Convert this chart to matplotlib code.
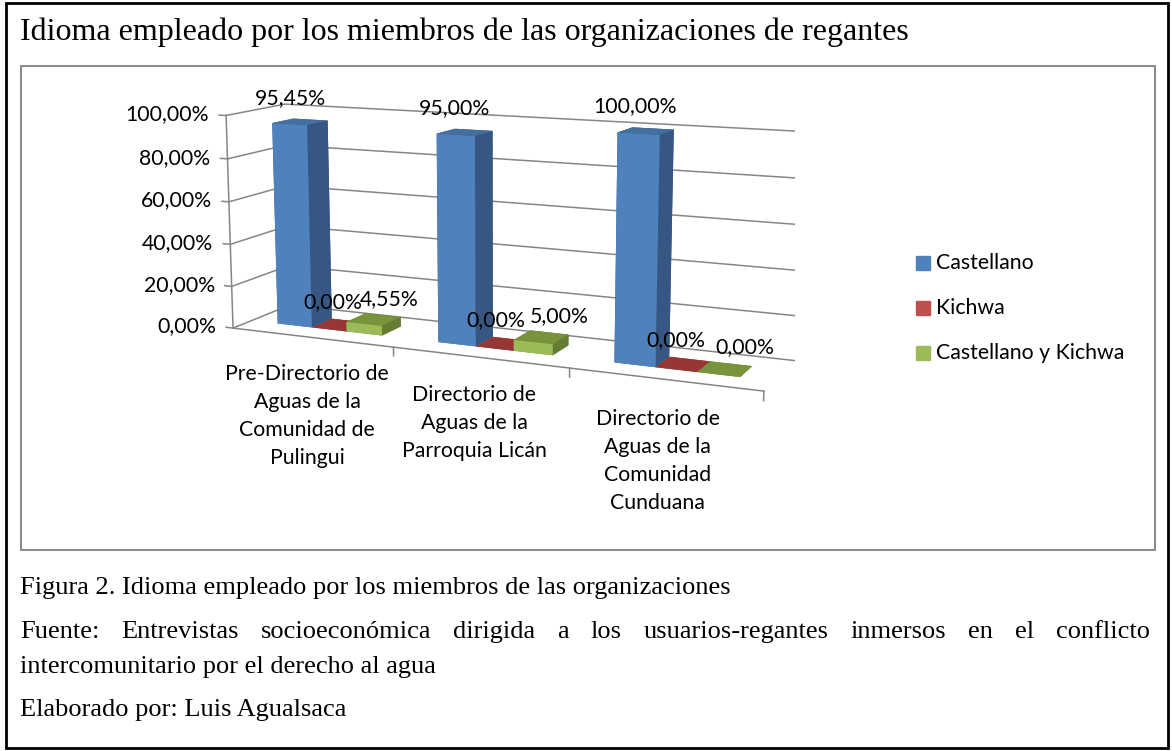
import numpy as np
import matplotlib
matplotlib.use('Agg')
import matplotlib.pyplot as plt
from matplotlib.patches import Rectangle
from mpl_toolkits.mplot3d import proj3d

# ---- data ----
categories = ['Pre-Directorio de\nAguas de la\nComunidad de\nPulingui',
              'Directorio de\nAguas de la\nParroquia Licán',
              'Directorio de\nAguas de la\nComunidad\nCunduana']
series = ['Castellano', 'Kichwa', 'Castellano y Kichwa']
castellano = [95.45, 95.00, 100.00]
kichwa = [0.00, 0.00, 0.00]
castellano_kichwa = [4.55, 5.00, 0.00]
yticks = [0, 20, 40, 60, 80, 100]

title = 'Idioma empleado por los miembros de las organizaciones de regantes'
caption1 = 'Figura 2. Idioma empleado por los miembros de las organizaciones'
caption2 = ('Fuente: Entrevistas socioeconómica dirigida a los usuarios-regantes '
            'inmersos en el conflicto')
caption3 = 'intercomunitario por el derecho al agua'
caption4 = 'Elaborado por: Luis Agualsaca'

front_colors = ['#4F81BD', '#C0504D', '#9BBB59']
top_colors = ['#44709F', '#963735', '#77933C']
side_colors = ['#365683', '#7F2D2B', '#647D33']
label_shift = [-0.06, -0.04, 0.1]   # Excel nudges the data labels a little
grid_col = '#868686'

sans = ['Lato', 'DejaVu Sans']
serif = ['Liberation Serif', 'DejaVu Serif']

W, H = 1172, 751
fig = plt.figure(figsize=(W / 100, H / 100), dpi=100)


def fx(x):
    return x / W


def fy(y):
    return 1 - y / H


# page border and chart frame
fig.patches.append(Rectangle((fx(6), fy(748)), (1168 - 6) / W, (748 - 3) / H,
                             transform=fig.transFigure, fill=False, ec='black', lw=2))
fig.patches.append(Rectangle((fx(21), fy(550)), (1155 - 21) / W, (550 - 66) / H,
                             transform=fig.transFigure, fill=False, ec='#8C8C8C', lw=1.5))

# ---- 3D chart ----
S = 600
cx, cy = 495, 243
ax = fig.add_axes([fx(cx - S / 2), fy(cy + S / 2), S / W, S / H],
                  projection='3d', computed_zorder=False)
ax.set_proj_type('persp', focal_length=0.5)
ax.view_init(elev=11, azim=-66)
ax.set_axis_off()
ax.patch.set_alpha(0)

ncat = len(categories)
depth = 0.6
ax.set_xlim(0, ncat)
ax.set_ylim(0, depth)
ax.set_zlim(0, 100)
ax.set_box_aspect((ncat, depth, 1.18), zoom=1.01)

# walls gridlines, value axis
for v in yticks:
    ax.plot([0, 0, ncat], [0, depth, depth], [v, v, v], color=grid_col, lw=1.1, zorder=1)
    ax.plot([-0.045, 0], [0, 0], [v, v], color=grid_col, lw=1.1, zorder=1)
ax.plot([0, 0], [0, 0], [0, 100], color=grid_col, lw=1.1, zorder=1)
ax.plot([0, ncat], [0, 0], [0, 0], color=grid_col, lw=1.1, zorder=1)
for k in range(1, ncat + 1):
    ax.plot([k, k], [0, 0], [0, -4], color=grid_col, lw=1.1, zorder=1)

# bars
bw = 0.22
bd = 0.22
values = [castellano, kichwa, castellano_kichwa]
xs, ys, dzs, fcs, shifts = [], [], [], [], []
for j, vals in enumerate(values):
    for i, v in enumerate(vals):
        xs.append(i + 0.5 - 1.5 * bw + j * bw)
        ys.append((depth - bd) / 2)
        dzs.append(v)
        shifts.append(label_shift[j])
        fcs += [top_colors[j], top_colors[j], front_colors[j],
                side_colors[j], side_colors[j], side_colors[j]]
ax.bar3d(xs, ys, np.zeros(len(xs)), bw, bd, dzs, color=fcs, shade=False,
         edgecolor='none', zorder=2)

# texts of the 3D chart are placed as flat figure texts at projected points
fig.canvas.draw()
M = ax.get_proj()


def at3d(x, y, z):
    xp, yp, _ = proj3d.proj_transform(x, y, z, M)
    px, py = ax.transData.transform((xp, yp))
    return fig.transFigure.inverted().transform((px, py))


for v in yticks:
    p = at3d(-0.11, 0, v)
    fig.text(p[0], p[1], f'{v:.2f}%'.replace('.', ','), ha='right', va='center',
             fontsize=15.3, family=sans)

# data labels
for x0, y0, v, sh in zip(xs, ys, dzs, shifts):
    p = at3d(x0 + bw / 2 + sh, y0 + bd / 2, v + 6)
    fig.text(p[0], p[1], f'{v:.2f}%'.replace('.', ','),
             ha='center', va='bottom', fontsize=15.3, family=sans)

# category labels
for i, lab in enumerate(categories):
    p = at3d(i + 0.47, 0, -13)
    fig.text(p[0], p[1], lab, ha='center', va='top', fontsize=15.3,
             family=sans, linespacing=1.5)

# legend
for j, name in enumerate(series):
    yc = 263 + 45 * j
    fig.patches.append(Rectangle((fx(916), fy(yc + 7)), 14 / W, 14 / H,
                                 transform=fig.transFigure, color=front_colors[j]))
    fig.text(fx(936), fy(yc), name, ha='left', va='center', fontsize=15.3, family=sans)

# ---- document text ----
fig.text(fx(20), fy(32), title, ha='left', va='center', fontsize=23, family=serif)
fig.text(fx(20), fy(588), caption1, ha='left', va='center', fontsize=19, family=serif)

r = fig.canvas.get_renderer()
words = caption2.split()
widths = []
for w in words:
    t = fig.text(0, 0, w, fontsize=19, family=serif)
    widths.append(t.get_window_extent(renderer=r).width)
    t.remove()
gap = (1150 - 20 - sum(widths)) / (len(words) - 1)
x = 20
for w, wd in zip(words, widths):
    fig.text(fx(x), fy(632), w, ha='left', va='center', fontsize=19, family=serif)
    x += wd + gap

fig.text(fx(20), fy(667), caption3, ha='left', va='center', fontsize=19, family=serif)
fig.text(fx(20), fy(710), caption4, ha='left', va='center', fontsize=19, family=serif)

fig.savefig('out.png', dpi=100)
